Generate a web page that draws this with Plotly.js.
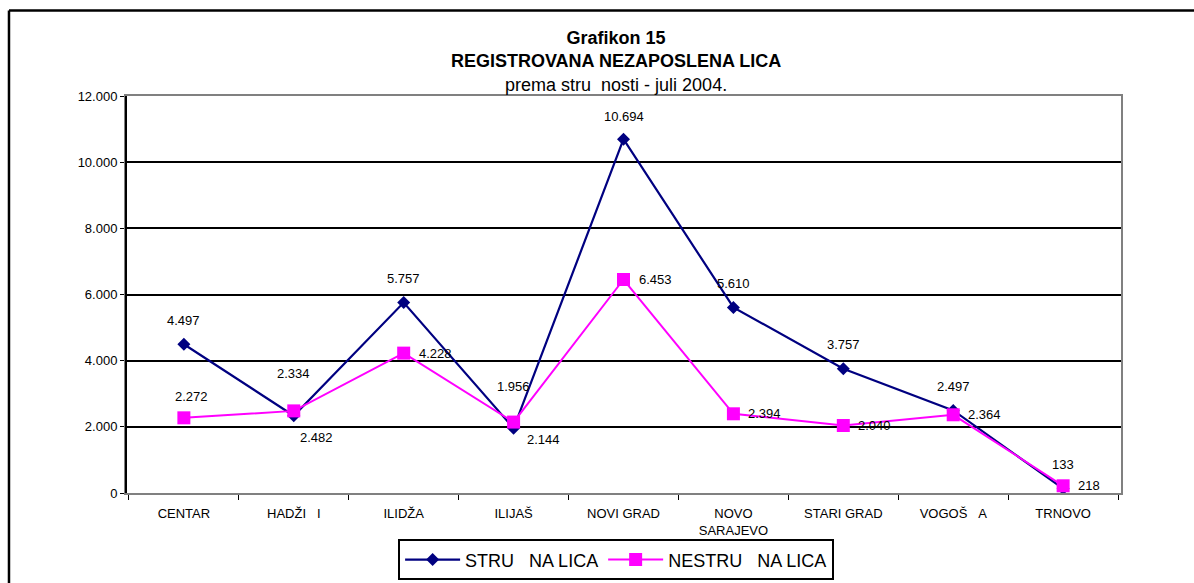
<!DOCTYPE html>
<html>
<head>
<meta charset="utf-8">
<script src="https://cdn.plot.ly/plotly-3.0.1.min.js"></script>
<style>
html, body { margin: 0; padding: 0; background: #fff; }
#chart { width: 1194px; height: 583px; }
</style>
</head>
<body>
<div id="chart"></div>
<script>
// ---- data ----
const categories = ['CENTAR', 'HADŽI\u00a0\u00a0\u00a0I', 'ILIDŽA', 'ILIJAŠ', 'NOVI GRAD', 'NOVO<br>SARAJEVO', 'STARI GRAD', 'VOGOŠ\u00a0\u00a0\u00a0A', 'TRNOVO'];
const strucnaLica = [4497, 2334, 5757, 1956, 10694, 5610, 3757, 2497, 133];
const nestrucnaLica = [2272, 2482, 4228, 2144, 6453, 2394, 2040, 2364, 218];
const seriesNames = ['STRU\u00a0\u00a0\u00a0NA LICA', 'NESTRU\u00a0\u00a0\u00a0NA LICA'];
const yTickVals = [0, 2000, 4000, 6000, 8000, 10000, 12000];
const yTickText = ['0', '2.000', '4.000', '6.000', '8.000', '10.000', '12.000'];

// ---- label placement (pixel offsets, style only) ----
const strucnaLabelPos = [
  {a: 'center', dx: 0, dy: 24}, {a: 'center', dx: 0, dy: 42}, {a: 'center', dx: 0, dy: 24},
  {a: 'center', dx: 0, dy: 42}, {a: 'center', dx: 0, dy: 23}, {a: 'center', dx: 0, dy: 24},
  {a: 'center', dx: 0, dy: 24}, {a: 'center', dx: 0, dy: 24}, {a: 'center', dx: 0, dy: 24}
];
const nestrucnaLabelPos = [
  {a: 'center', dx: 8, dy: 21}, {a: 'center', dx: 23, dy: -27}, {a: 'left', dx: 13, dy: 0},
  {a: 'left', dx: 11, dy: -17}, {a: 'left', dx: 13, dy: 0}, {a: 'left', dx: 13, dy: 0},
  {a: 'left', dx: 13, dy: 0}, {a: 'left', dx: 13, dy: 0}, {a: 'left', dx: 13, dy: 0}
];

function fmt(v) {
  const s = String(Math.round(v));
  return s.replace(/\B(?=(\d{3})+(?!\d))/g, '.');
}

const FONT = 'Liberation Sans, Arial, sans-serif';
const annotations = [];
function addLabels(vals, pos) {
  vals.forEach((v, i) => {
    annotations.push({
      x: categories[i], y: v, xref: 'x', yref: 'y',
      text: fmt(v), showarrow: false,
      xanchor: pos[i].a, yanchor: 'middle',
      xshift: pos[i].dx, yshift: pos[i].dy,
      font: {family: FONT, size: 13, color: '#000'}
    });
  });
}
addLabels(strucnaLica, strucnaLabelPos);
addLabels(nestrucnaLica, nestrucnaLabelPos);

const traces = [
  {
    x: categories, y: strucnaLica, name: seriesNames[0],
    type: 'scatter', mode: 'lines+markers',
    line: {color: '#000080', width: 2.2},
    marker: {symbol: 'diamond', size: 10, color: '#000080'}
  },
  {
    x: categories, y: nestrucnaLica, name: seriesNames[1],
    type: 'scatter', mode: 'lines+markers',
    line: {color: '#FF00FF', width: 2},
    marker: {symbol: 'square', size: 13, color: '#FF00FF'}
  }
];

const layout = {
  width: 1194, height: 583,
  margin: {l: 126, r: 73, t: 96, b: 90},
  paper_bgcolor: '#fff', plot_bgcolor: '#fff',
  font: {family: FONT, size: 13, color: '#000'},
  title: {
    text: '<b>Grafikon 15</b><br><b>REGISTROVANA NEZAPOSLENA LICA</b><br>prema stru\u00a0\u00a0nosti - juli 2004.',
    font: {family: FONT, size: 18, color: '#000'},
    xref: 'container', x: 0.516, xanchor: 'center',
    yref: 'container', y: 0.925, yanchor: 'middle'
  },
  xaxis: {
    type: 'category', automargin: false,
    showline: true, linecolor: '#808080', linewidth: 2, mirror: true,
    showgrid: false, zeroline: false,
    ticks: 'outside', tickson: 'boundaries', ticklen: 5, tickcolor: '#000', tickwidth: 1,
    ticklabelstandoff: 7,
    tickfont: {family: FONT, size: 13, color: '#000'},
    fixedrange: true
  },
  yaxis: {
    range: [0, 12000], automargin: false,
    tickvals: yTickVals, ticktext: yTickText,
    showline: true, linecolor: '#808080', linewidth: 2, mirror: true,
    showgrid: true, gridcolor: '#000', gridwidth: 2,
    zeroline: false,
    ticks: 'outside', ticklen: 4, tickcolor: '#000', tickwidth: 1,
    tickfont: {family: FONT, size: 13, color: '#000'},
    fixedrange: true
  },
  showlegend: true,
  legend: {
    orientation: 'h',
    xref: 'container', x: 0.516, xanchor: 'center',
    yref: 'container', y: 0.0045, yanchor: 'bottom',
    bordercolor: '#000', borderwidth: 2, bgcolor: '#fff',
    font: {family: FONT, size: 18, color: '#000'},
    itemwidth: 55, tracegroupgap: 0
  },
  annotations: annotations,
  shapes: [
    {type: 'line', xref: 'paper', yref: 'paper', x0: 0, x1: 0, y0: 0, y1: 1,
     line: {color: '#000', width: 2}},
    {type: 'line', xref: 'paper', yref: 'paper', x0: -0.1176, x1: -0.1176, y0: -0.3, y1: 1.2154,
     line: {color: '#000', width: 2.5}},
    {type: 'line', xref: 'paper', yref: 'paper', x0: -0.1176, x1: 1.1, y0: 1.2154, y1: 1.2154,
     line: {color: '#000', width: 2.5}}
  ]
};

Plotly.newPlot('chart', traces, layout, {displayModeBar: false, staticPlot: true});
</script>
</body>
</html>
